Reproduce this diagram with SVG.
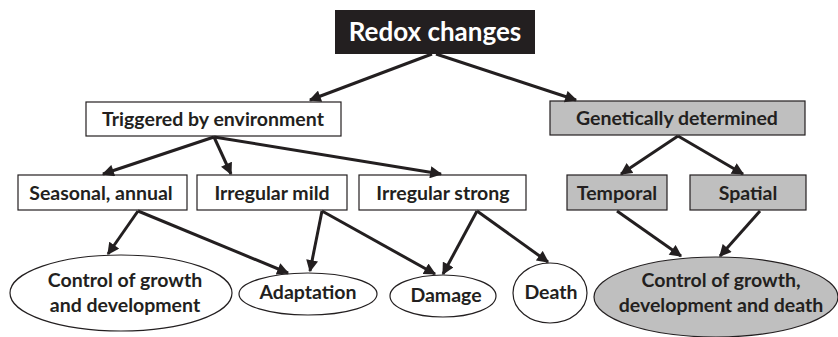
<svg xmlns="http://www.w3.org/2000/svg" width="838" height="337" viewBox="0 0 838 337">
<defs>
<marker id="ah" viewBox="0 0 10 10" refX="9" refY="5" markerWidth="4.2" markerHeight="4" orient="auto" markerUnits="strokeWidth">
<path d="M0,0 L10,5 L0,10 z" fill="#231f20"/>
</marker>
<style>
.t{font-family:Lato,"Liberation Sans",sans-serif;font-weight:bold;fill:#231f20;text-anchor:middle;font-size:19.5px}
.b{stroke:#231f20;stroke-width:1.2}
.w{fill:#fff}
.g{fill:#bfbfbf}
.c line{stroke:#231f20;stroke-width:3;marker-end:url(#ah)}
</style>
</defs>
<rect width="838" height="337" fill="#fff"/>
<g id="redox">
<rect x="335" y="10" width="200" height="44" fill="#231f20"/>
<text class="t" x="435" y="41" style="fill:#fff;font-size:26px">Redox changes</text>
</g>
<g id="triggered">
<rect class="b w" x="86" y="102" width="255" height="34"/>
<text class="t" x="213" y="126">Triggered by environment</text>
</g>
<g id="genetic">
<rect class="b g" x="550" y="101" width="255" height="34"/>
<text class="t" x="677" y="125">Genetically determined</text>
</g>
<g id="seasonal">
<rect class="b w" x="18" y="175" width="169" height="35"/>
<text class="t" x="101" y="200">Seasonal, annual</text>
</g>
<g id="mild">
<rect class="b w" x="197" y="175" width="150" height="35"/>
<text class="t" x="272" y="200">Irregular mild</text>
</g>
<g id="strong">
<rect class="b w" x="359" y="175" width="167" height="35"/>
<text class="t" x="443" y="200">Irregular strong</text>
</g>
<g id="temporal">
<rect class="b g" x="567" y="175" width="100" height="35"/>
<text class="t" x="617" y="200">Temporal</text>
</g>
<g id="spatial">
<rect class="b g" x="690" y="175" width="116" height="35"/>
<text class="t" x="748" y="200">Spatial</text>
</g>
<g id="control">
<ellipse class="b w" cx="121" cy="293" rx="111" ry="38"/>
<text class="t" x="125" y="287">Control of growth</text>
<text class="t" x="125" y="312">and development</text>
</g>
<g id="adaptation">
<ellipse class="b w" cx="308" cy="294" rx="69" ry="21"/>
<text class="t" x="308" y="299">Adaptation</text>
</g>
<g id="damage">
<ellipse class="b w" cx="443" cy="296" rx="53" ry="21"/>
<text class="t" x="446" y="302">Damage</text>
</g>
<g id="death">
<ellipse class="b w" cx="550" cy="293" rx="37" ry="30"/>
<text class="t" x="551" y="299">Death</text>
</g>
<g id="control2">
<ellipse class="b g" cx="716" cy="297" rx="122" ry="40"/>
<text class="t" x="721" y="287">Control of growth,</text>
<text class="t" x="721" y="312">development and death</text>
</g>
<g id="connectors" class="c">
<line x1="432" y1="54" x2="310" y2="100"/>
<line x1="436" y1="54" x2="576" y2="100"/>
<line x1="214" y1="137" x2="103" y2="174"/>
<line x1="214" y1="137" x2="231" y2="174"/>
<line x1="214" y1="137" x2="441" y2="174"/>
<line x1="678" y1="136" x2="621" y2="174"/>
<line x1="678" y1="136" x2="743" y2="174"/>
<line x1="138" y1="211" x2="108" y2="254"/>
<line x1="138" y1="211" x2="288" y2="273"/>
<line x1="322" y1="211" x2="310" y2="271"/>
<line x1="322" y1="211" x2="435" y2="274"/>
<line x1="477" y1="211" x2="443" y2="274"/>
<line x1="477" y1="211" x2="548" y2="262"/>
<line x1="617" y1="211" x2="681" y2="256"/>
<line x1="760" y1="211" x2="720" y2="256"/>
</g>
</svg>
